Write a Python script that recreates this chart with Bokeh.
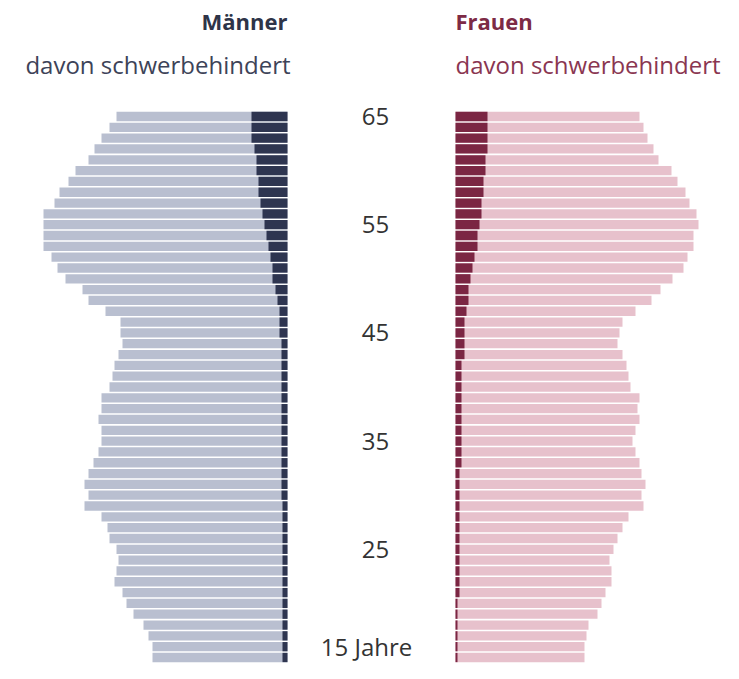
from bokeh.plotting import figure
from bokeh.models import Range1d, Label, ColumnDataSource
from bokeh.core.properties import value
from bokeh.embed import file_html
from bokeh.resources import INLINE

# ages from 65 down to 15
ages = list(range(65, 14, -1))

men_total = [171, 178, 186, 193, 199, 212, 219, 228, 233, 244,
             244, 244, 244, 236, 230, 222, 205, 199, 182, 167,
             167, 165, 169, 173, 175, 178, 186, 186, 189, 186,
             186, 189, 194, 199, 203, 199, 203, 186, 180, 178,
             171, 169, 171, 173, 165, 161, 154, 144, 139, 135, 135]
men_disabled = [36, 36, 36, 33, 31, 31, 29, 29, 27, 25,
                23, 21, 19, 17, 15, 15, 12, 10, 8, 8,
                8, 6, 6, 6, 6, 6, 6, 6, 6, 6,
                6, 6, 6, 6, 6, 6, 5, 5, 5, 5,
                5, 5, 5, 5, 5, 5, 5, 5, 5, 5, 5]
women_total = [184, 188, 192, 198, 203, 216, 222, 230, 234, 241,
               243, 238, 238, 232, 228, 217, 205, 196, 180, 167,
               164, 162, 167, 171, 173, 175, 184, 182, 184, 180,
               177, 180, 184, 186, 190, 186, 188, 173, 167, 162,
               158, 154, 156, 156, 150, 146, 142, 133, 131, 129, 129]
women_disabled = [32, 32, 32, 32, 30, 30, 28, 28, 26, 26,
                  24, 22, 22, 19, 17, 15, 13, 13, 11, 9,
                  9, 9, 9, 6, 6, 6, 6, 6, 6, 6,
                  6, 6, 6, 4, 4, 4, 4, 4, 4, 4,
                  4, 4, 4, 4, 4, 2, 2, 2, 2, 2, 2]

tick_ages = [65, 55, 45, 35, 25]
tick_labels = ["65", "55", "45", "35", "25"]
last_label = "15 Jahre"

# style constants
GAP = 84
FONT = "Open Sans"
MEN_LIGHT = "#b9bfd0"
MEN_DARK = "#2e3550"
WOMEN_LIGHT = "#e7c1cc"
WOMEN_DARK = "#7b2643"

src = ColumnDataSource(dict(
    age=ages,
    m_left=[-GAP - v for v in men_total],
    m_dleft=[-GAP - v for v in men_disabled],
    w_right=[GAP + v for v in women_total],
    w_dright=[GAP + v for v in women_disabled],
))

p = figure(width=723, height=663, output_backend="svg", toolbar_location=None,
           x_range=Range1d(-371, 352), y_range=Range1d(14.4455, 75.721),
           x_axis_location=None, y_axis_location=None, min_border=0)
p.outline_line_color = None
p.grid.visible = False
p.background_fill_color = "white"

bh = 0.86
p.hbar(y="age", left="m_left", right=-GAP, height=bh, source=src,
       fill_color=MEN_LIGHT, line_color=None)
p.hbar(y="age", left="m_dleft", right=-GAP, height=bh, source=src,
       fill_color=MEN_DARK, line_color=None)
p.hbar(y="age", left=GAP, right="w_right", height=bh, source=src,
       fill_color=WOMEN_LIGHT, line_color=None)
p.hbar(y="age", left=GAP, right="w_dright", height=bh, source=src,
       fill_color=WOMEN_DARK, line_color=None)

tsrc = ColumnDataSource(dict(y=tick_ages, t=tick_labels))
p.text(x=4, y="y", text="t", source=tsrc, text_align="center",
       text_baseline="middle", text_font=value(FONT), text_font_size="24px",
       text_color="#333333")
p.add_layout(Label(x=-5, y=1, y_units="screen", text=last_label,
                   text_align="center", text_baseline="bottom",
                   text_font=FONT, text_font_size="24px", text_color="#333333"))

def lab(x, y, t, align, color, bold=False):
    p.add_layout(Label(x=x, y=y, y_units="screen", text=t, text_align=align,
                       text_baseline="middle", text_font=FONT,
                       text_font_size="22px" if bold else "24px",
                       text_font_style="bold" if bold else "normal",
                       text_color=color))

lab(-GAP, 643, "Männer", "right", "#2e3448", bold=True)
lab(-GAP + 3, 599, "davon schwerbehindert", "right", "#3d4358")
lab(GAP, 643, "Frauen", "left", "#7d2a45", bold=True)
lab(GAP, 599, "davon schwerbehindert", "left", "#8a3651")

open("out.html", "w").write(file_html(p, INLINE))
